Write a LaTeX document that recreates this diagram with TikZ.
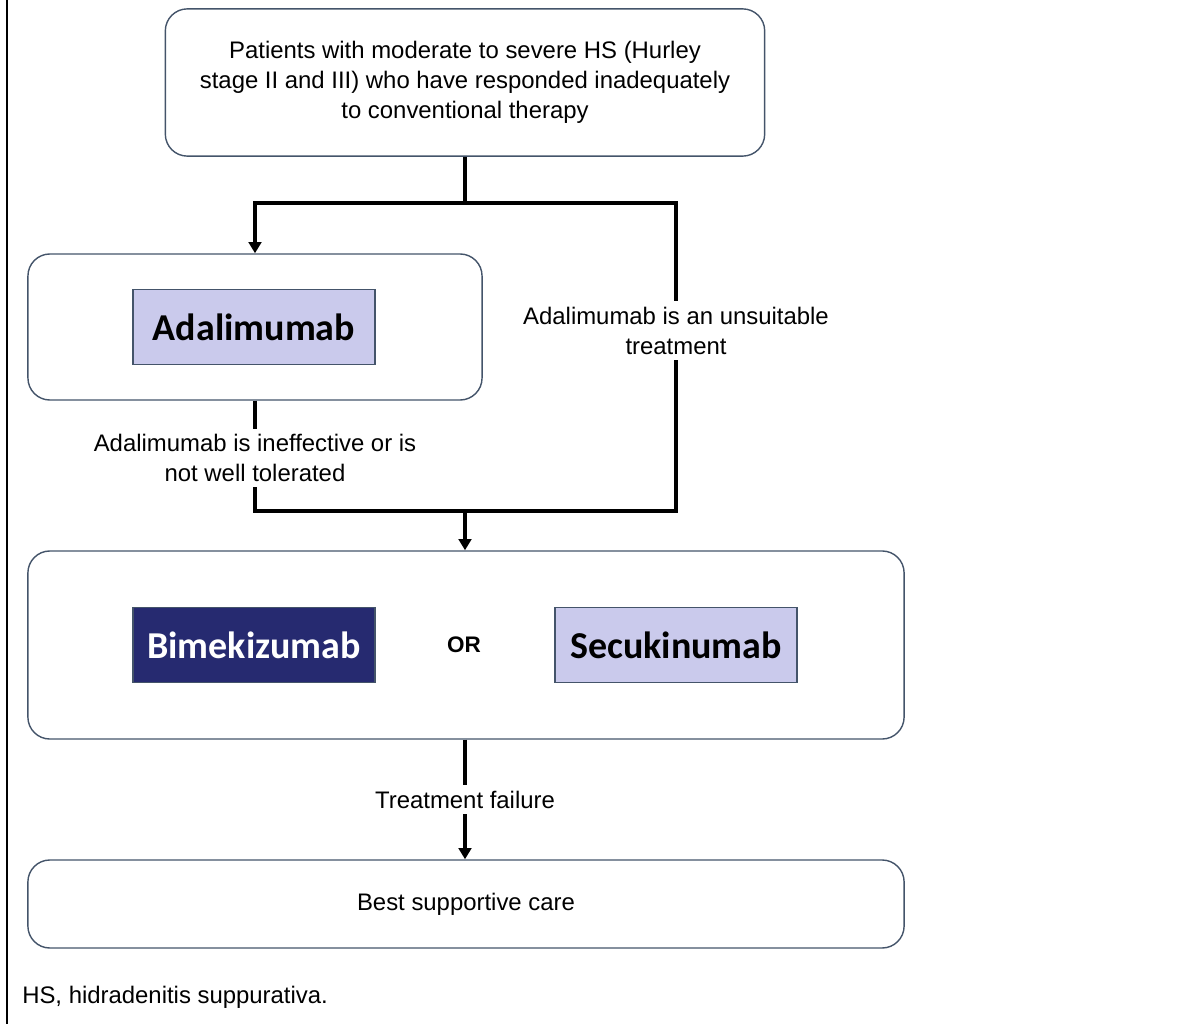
\documentclass[tikz,border=0pt]{standalone}
\usepackage{fontspec}
\setmainfont{Liberation Sans}
\newfontfamily\calibri{Carlito}
\usetikzlibrary{arrows.meta}
\definecolor{boxline}{HTML}{44546A}
\definecolor{lavender}{HTML}{CACAEC}
\definecolor{navy}{HTML}{262A70}

\begin{document}
\begin{tikzpicture}[x=0.025cm, y=-0.025cm,
  roundbox/.style={draw=boxline, line width=1pt, rounded corners=0.55cm, align=center, inner sep=0pt, font=\fontsize{17}{21.3}\selectfont},
  drugbox/.style={draw=boxline, line width=1pt, fill=lavender, minimum width=6.05cm, minimum height=1.88cm, inner sep=0pt, font=\calibri\bfseries\fontsize{27}{30}\selectfont},
  flow/.style={line width=2.2pt},
  flowarrow/.style={flow, -{Triangle[length=8pt,width=9pt]}},
  lbl/.style={fill=white, align=center, inner sep=4pt, font=\fontsize{17}{21.3}\selectfont}]
\def\midx{465}

\useasboundingbox (0,0) rectangle (1190,1024);
\draw[line width=1.5pt] (7,0) -- (7,1024);

% boxes
\node[roundbox, minimum width=14.98cm, minimum height=3.68cm] (patients) at (\midx,82.5)
  {Patients with moderate to severe HS (Hurley\\stage II and III) who have responded inadequately\\to conventional therapy};
\node[roundbox, minimum width=11.35cm, minimum height=3.65cm] (adabox) at (255,327) {};
\node[drugbox] (ada) at (254,327) {Adalimumab};
\node[roundbox, minimum width=21.9cm, minimum height=4.7cm] (il17box) at (466,645) {};
\node[drugbox, fill=navy, text=white] (bime) at (254,645) {Bimekizumab};
\node[font=\bfseries\fontsize{16}{18}\selectfont] (or) at (464,645) {OR};
\node[drugbox] (secu) at (676,645) {Secukinumab};
\node[roundbox, minimum width=21.9cm, minimum height=2.2cm] (bsc) at (466,904) {Best supportive care};

\node[anchor=base west, font=\fontsize{17}{21.3}\selectfont, inner sep=0pt] (note) at (22,1003) {HS, hidradenitis suppurativa.};

% connectors
\coordinate (split) at (\midx,203);
\coordinate (rtop) at (676,203);
\coordinate (rbot) at (676,511);
\coordinate (lbot) at (255,511);
\coordinate (join) at (\midx,511);

\draw[flowarrow] (patients.south) -- (split) -| (adabox.north);
\draw[flow] (split) -- (rtop) -- node[lbl, pos=0.415] {Adalimumab is an unsuitable\\treatment} (rbot) -- (join);
\draw[flow] (adabox.south) -- node[lbl, pos=0.52] {Adalimumab is ineffective or is\\not well tolerated} (lbot) -- (join);
\draw[flowarrow] (join) -- (join |- il17box.north);
\draw[flowarrow] (join |- il17box.south) -- node[lbl, pos=0.5] {Treatment failure} (join |- bsc.north);

\end{tikzpicture}
\end{document}
